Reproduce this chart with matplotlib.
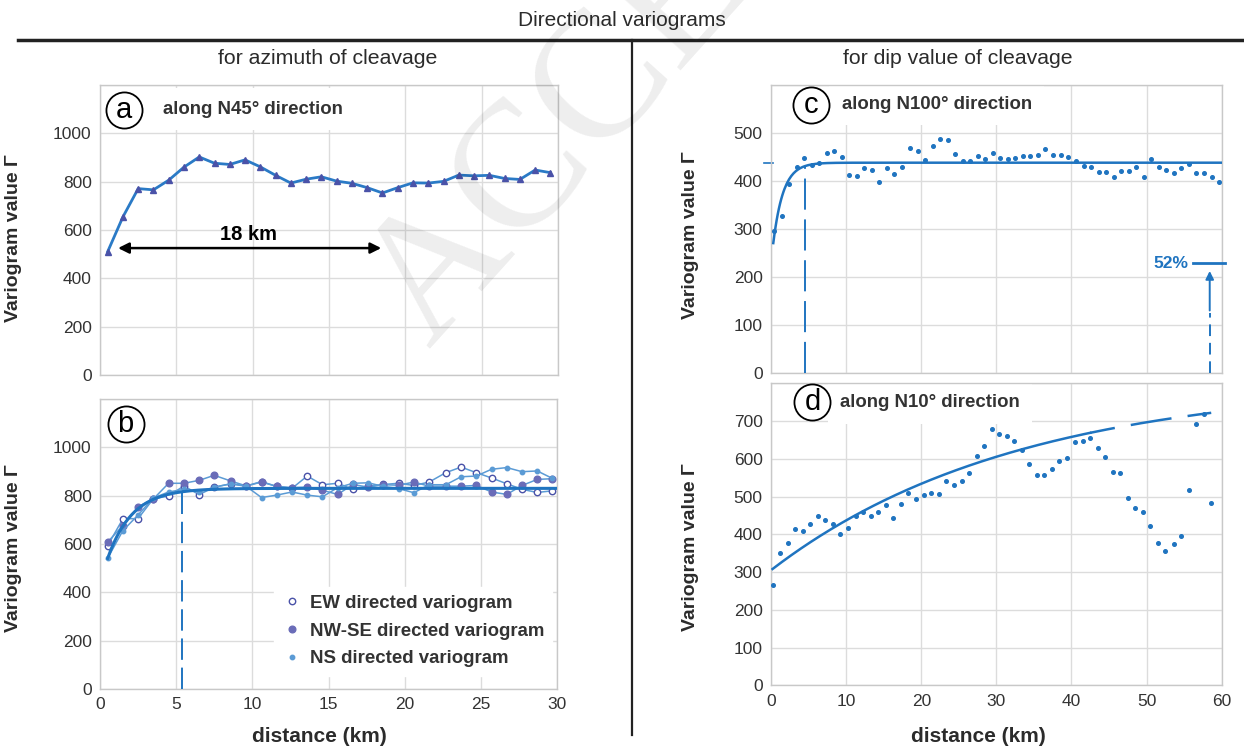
import matplotlib.pyplot as plt
from matplotlib.lines import Line2D
import numpy as np

plt.rcParams["font.family"] = ["Liberation Sans", "DejaVu Sans"]

# ---- data ----
# (a) azimuth of cleavage, N45 direction
lag_a = [0.5, 1.5, 2.5, 3.5, 4.5, 5.5, 6.5, 7.5, 8.5, 9.5, 10.5, 11.5, 12.5, 13.5, 14.5,
         15.5, 16.5, 17.5, 18.5, 19.5, 20.5, 21.5, 22.5, 23.5, 24.5, 25.5, 26.5, 27.5, 28.5, 29.5]
gamma_a = [510, 654, 771, 766, 806, 860, 902, 876, 871, 890, 861, 826, 794, 810, 820,
           802, 793, 775, 753, 775, 795, 794, 801, 827, 824, 826, 813, 809, 848, 837]

# (b) azimuth of cleavage, three directions
lag_b = [0.5, 1.5, 2.5, 3.5, 4.5, 5.5, 6.5, 7.5, 8.6, 9.6, 10.6, 11.6, 12.6, 13.6, 14.6,
         15.6, 16.6, 17.6, 18.6, 19.6, 20.6, 21.6, 22.7, 23.7, 24.7, 25.7, 26.7, 27.7, 28.7, 29.7]
gamma_ew = [593, 704, 705, 787, 798, 840, 804, 835, 849, 840, 858, 838, 830, 881, 845,
            851, 826, 839, 846, 851, 842, 856, 895, 918, 895, 873, 849, 826, 813, 820]
gamma_nwse = [608, 676, 754, 786, 851, 851, 863, 884, 860, 840, 856, 838, 833, 835, 822,
              805, 846, 835, 845, 843, 856, 839, 839, 839, 842, 815, 805, 842, 867, 870]
gamma_ns = [541, 655, 720, 790, 815, 826, 815, 835, 849, 838, 792, 802, 815, 802, 795,
            833, 851, 853, 838, 829, 812, 845, 845, 878, 881, 909, 916, 899, 902, 871]

# (c) dip of cleavage, N100 direction
lag_c = [0.4, 1.4, 2.4, 3.4, 4.4, 5.4, 6.4, 7.4, 8.4, 9.4, 10.4, 11.4, 12.4, 13.4, 14.4,
         15.4, 16.4, 17.5, 18.5, 19.5, 20.5, 21.5, 22.5, 23.5, 24.5, 25.5, 26.5, 27.5, 28.5, 29.5,
         30.5, 31.5, 32.5, 33.5, 34.5, 35.5, 36.5, 37.6, 38.6, 39.6, 40.6, 41.6, 42.6, 43.6, 44.6,
         45.6, 46.6, 47.6, 48.6, 49.6, 50.6, 51.6, 52.6, 53.6, 54.6, 55.6, 56.6, 57.7, 58.7, 59.7]
gamma_c = [296, 327, 393, 430, 447, 434, 437, 459, 463, 449, 413, 410, 427, 423, 397,
           427, 415, 430, 469, 462, 443, 472, 487, 485, 456, 441, 442, 452, 445, 459,
           448, 445, 448, 451, 452, 454, 466, 455, 455, 450, 441, 432, 429, 418, 418,
           408, 420, 420, 429, 409, 446, 429, 423, 417, 426, 435, 417, 417, 409, 398]

# (d) dip of cleavage, N10 direction
lag_d = [0.2, 1.2, 2.2, 3.2, 4.2, 5.2, 6.2, 7.2, 8.2, 9.2, 10.2, 11.3, 12.3, 13.3, 14.3,
         15.3, 16.3, 17.3, 18.3, 19.3, 20.3, 21.3, 22.3, 23.3, 24.3, 25.4, 26.4, 27.4, 28.4, 29.4,
         30.4, 31.4, 32.4, 33.4, 34.4, 35.4, 36.4, 37.4, 38.4, 39.4, 40.5, 41.5, 42.5, 43.5, 44.5,
         45.5, 46.5, 47.5, 48.5, 49.5, 50.5, 51.5, 52.5, 53.6, 54.6, 55.6, 56.6, 57.6, 58.6]
gamma_d = [266, 351, 377, 413, 410, 427, 449, 437, 428, 402, 418, 448, 459, 449, 459,
           478, 444, 479, 509, 493, 503, 509, 507, 541, 531, 540, 563, 607, 633, 678,
           667, 660, 646, 623, 586, 557, 556, 573, 594, 602, 644, 648, 655, 628, 605,
           566, 563, 496, 469, 459, 421, 377, 357, 373, 396, 518, 693, 719, 483]

# exponential model parameters: nugget, sill, practical range (km)
model_b = (435, 830, 4.85)
model_c = (228, 438, 4.0)
model_d = (305, 805, 98.0)
range_b = 5.38
range_c = 4.5
range_d_solid = 42.5
nugget_ratio_c = "52%"

BLUE = "#1f74c0"
LIGHT = "#5b9bd5"
PURPLE = "#4a52a8"
GRID = "#dcdcdc"
TXT = "#2b2b2b"


def expo(h, model):
    c0, sill, a = model
    return c0 + (sill - c0) * (1 - np.exp(-3 * np.asarray(h) / a))


def style_axes(ax, xmax, xstep, ymax, ylab_max, ystep, show_x):
    ax.set_xlim(0, xmax)
    ax.set_ylim(0, ymax)
    ax.set_xticks(np.arange(0, xmax + 0.1, xstep))
    ax.set_yticks(np.arange(0, ymax + 0.1, ystep))
    ax.set_yticklabels([str(int(v)) if v <= ylab_max else "" for v in ax.get_yticks()])
    if not show_x:
        ax.set_xticklabels([])
    ax.grid(True, color=GRID, linewidth=1.0)
    ax.set_axisbelow(True)
    for s in ax.spines.values():
        s.set_color("#c8c8c8")
        s.set_linewidth(1.0)
    ax.tick_params(length=0, labelsize=12.5, colors="#333333", pad=6)
    ax.set_ylabel("Variogram value Γ", fontsize=14, fontweight="bold", color=TXT)


def panel_label(ax, letter, cx, cy, title, tx, ty):
    ax.plot([cx], [cy], "o", ms=26, mfc="none", mec="black", mew=1.3,
            transform=ax.transAxes, clip_on=False, zorder=6)
    ax.text(cx, cy, letter, transform=ax.transAxes, ha="center", va="center",
            fontsize=21, zorder=7)
    if title:
        ax.text(tx, ty, title, transform=ax.transAxes, ha="left", va="center",
                fontsize=13.4, fontweight="bold", color="#333333", zorder=2,
                bbox=dict(facecolor="white", edgecolor="none", pad=9))


fig = plt.figure(figsize=(12.44, 7.51), dpi=100)

ax_a = fig.add_axes([0.0804, 0.5007, 0.3682, 0.3862])
ax_b = fig.add_axes([0.0804, 0.0826, 0.3674, 0.3862])
ax_c = fig.add_axes([0.6198, 0.5037, 0.3623, 0.3831])
ax_d = fig.add_axes([0.6198, 0.0875, 0.3623, 0.4021])

# (a)
style_axes(ax_a, 30, 5, 1200, 1000, 200, False)
ax_a.plot(lag_a, gamma_a, color="#2a7ac6", lw=2, marker="^", ms=5,
          mfc=PURPLE, mec=PURPLE, zorder=3)
ax_a.annotate("", xy=(1.0, 525), xytext=(18.6, 525),
              arrowprops=dict(arrowstyle="<|-|>", color="black", lw=1.8, mutation_scale=16))
ax_a.text(9.7, 582, "18 km", ha="center", va="center", fontsize=14.5, fontweight="bold")
panel_label(ax_a, "a", 0.053, 0.914, "along N45° direction", 0.137, 0.916)
ax_a.yaxis.set_label_coords(-0.170, 0.472)

# (b)
style_axes(ax_b, 30, 5, 1200, 1000, 200, True)
ax_b.plot(lag_b, gamma_ew, color=LIGHT, lw=1.1, marker="o", ms=4.6,
          mfc="white", mec=PURPLE, mew=1.0, zorder=3)
ax_b.plot(lag_b, gamma_nwse, color=LIGHT, lw=1.1, marker="o", ms=4.8,
          mfc="#6a6cb8", mec="#6a6cb8", zorder=3)
ax_b.plot(lag_b, gamma_ns, color=LIGHT, lw=1.1, marker="o", ms=3.2,
          mfc=LIGHT, mec=LIGHT, zorder=3)
hb = np.linspace(lag_b[0], 30, 300)
ax_b.plot(hb, expo(hb, model_b), color=BLUE, lw=2.2, zorder=4)
ax_b.plot([range_b, range_b], [0, expo(range_b, model_b)], color=BLUE, lw=1.4,
          dashes=(11, 4), zorder=4)
handles = [
    Line2D([], [], ls="none", marker="o", ms=4.6, mfc="white", mec=PURPLE),
    Line2D([], [], ls="none", marker="o", ms=4.8, mfc="#6a6cb8", mec="#6a6cb8"),
    Line2D([], [], ls="none", marker="o", ms=3.2, mfc=LIGHT, mec=LIGHT),
]
leg = ax_b.legend(handles, ["EW directed variogram", "NW-SE directed variogram",
                            "NS directed variogram"],
                  loc="upper left", bbox_to_anchor=(0.361, 0.385), frameon=True,
                  fancybox=False, framealpha=1, edgecolor="white", handlelength=1,
                  handletextpad=0.45, labelspacing=0.57, borderpad=0.45,
                  prop=dict(size=13.4, weight="bold"))
for t in leg.get_texts():
    t.set_color("#333333")
panel_label(ax_b, "b", 0.056, 0.913, "", 0.2, 0.9)
ax_b.set_xlabel("distance (km)", fontsize=15, fontweight="bold", color=TXT)
ax_b.xaxis.set_label_coords(0.481, -0.131)
ax_b.yaxis.set_label_coords(-0.170, 0.486)

# (c)
style_axes(ax_c, 60, 10, 600, 500, 100, False)
ax_c.plot(lag_c, gamma_c, "o", ms=2.6, color=BLUE, zorder=3)
hc = np.linspace(0.3, 60, 400)
ax_c.plot(hc, expo(hc, model_c), color=BLUE, lw=1.8, zorder=4)
ax_c.plot([range_c, range_c], [0, expo(range_c, model_c)], color=BLUE, lw=1.4,
          dashes=(16, 5), zorder=4)
ax_c.plot([-0.95, 0.3], [model_c[1], model_c[1]], color=BLUE, lw=1.2, clip_on=False)
ax_c.plot([58.4, 58.4], [0, 125], color=BLUE, lw=1.4, dashes=(6, 3.5), zorder=4)
ax_c.annotate("", xy=(58.4, 218), xytext=(58.4, 124),
              arrowprops=dict(arrowstyle="-|>", color=BLUE, lw=1.4, mutation_scale=12))
ax_c.plot([56.2, 60.5], [model_c[0], model_c[0]], color=BLUE, lw=2, clip_on=False, zorder=5)
ax_c.text(55.6, model_c[0], nugget_ratio_c, ha="right", va="center", fontsize=12.5,
          fontweight="bold", color=BLUE)
panel_label(ax_c, "c", 0.088, 0.930, "along N100° direction", 0.157, 0.934)
ax_c.yaxis.set_label_coords(-0.160, 0.479)

# (d)
style_axes(ax_d, 60, 10, 800, 700, 100, True)
ax_d.plot(lag_d, gamma_d, "o", ms=2.6, color=BLUE, zorder=3)
hd1 = np.linspace(lag_d[0], range_d_solid, 300)
hd2 = np.linspace(range_d_solid, lag_d[-1], 200)
ax_d.plot(hd1, expo(hd1, model_d), color=BLUE, lw=1.8, zorder=4)
ax_d.plot(hd2, expo(hd2, model_d), color=BLUE, lw=1.8, zorder=4,
          linestyle=(6.5, (16.5, 6.5)))
panel_label(ax_d, "d", 0.092, 0.939, "along N10° direction", 0.153, 0.936)
ax_d.set_xlabel("distance (km)", fontsize=15, fontweight="bold", color=TXT)
ax_d.xaxis.set_label_coords(0.461, -0.138)
ax_d.yaxis.set_label_coords(-0.160, 0.458)

# ---- header and dividers ----
fig.text(0.5, 1 - 20 / 751, "Directional variograms", ha="center", va="center",
         fontsize=15, color=TXT)
fig.add_artist(Line2D([18 / 1244, 1], [1 - 40 / 751, 1 - 40 / 751], color="#222222", lw=2.5,
                      transform=fig.transFigure))
fig.add_artist(Line2D([632 / 1244, 632 / 1244], [1 - 40 / 751, 1 - 735 / 751],
                      color="#222222", lw=1.6, transform=fig.transFigure))
fig.text(328 / 1244, 1 - 58 / 751, "for azimuth of cleavage", ha="center", va="center",
         fontsize=15.3, color=TXT)
fig.text(958 / 1244, 1 - 58 / 751, "for dip value of cleavage", ha="center", va="center",
         fontsize=15.3, color=TXT)

# faint watermark
fig.text(430 / 1244, 1 - 350 / 751, "ACCEPTED MANUSCRIPT", rotation=48,
         rotation_mode="anchor", ha="left", va="baseline", fontsize=130,
         family="Liberation Serif", color="black", alpha=0.07, zorder=10)

fig.savefig("out.png", dpi=100)
